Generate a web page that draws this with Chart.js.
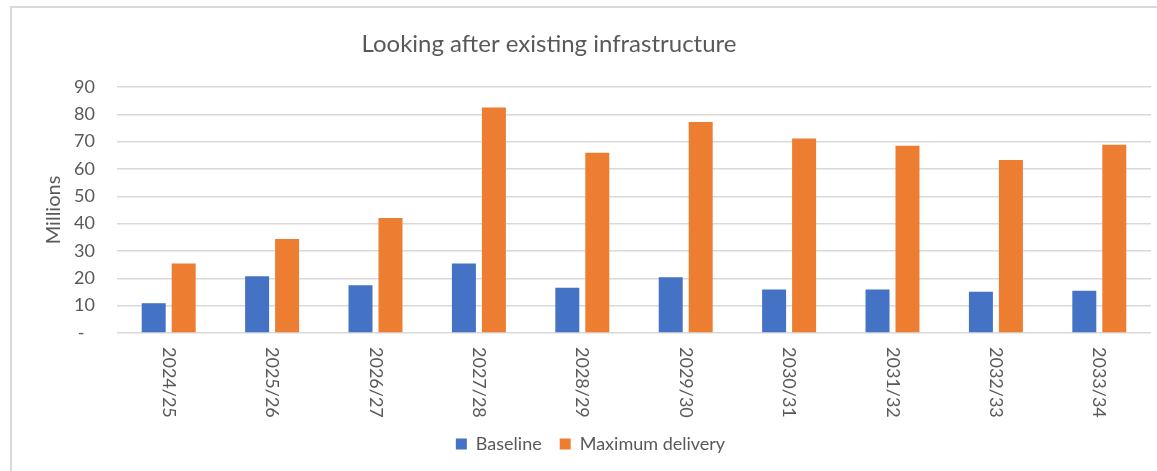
<!DOCTYPE html>
<html>
<head>
<meta charset="utf-8">
<title>Looking after existing infrastructure</title>
<script src="https://cdn.jsdelivr.net/npm/chart.js@4/dist/chart.umd.min.js"></script>
<style>
    html, body { margin: 0; padding: 0; background: #fff; }
    #wrap { position: relative; width: 1157px; height: 471px; overflow: hidden; }
    #frame {
        position: absolute; left: 10px; top: 6px; right: -4px; bottom: -4px;
        border-left: 2px solid #d9d9d9; border-top: 2px solid #d9d9d9;
    }
    #infrastructure { position: absolute; left: 0; top: 0; }
</style>
</head>
<body>
<div id="wrap">
    <div id="frame"></div>
    <canvas id="infrastructure"></canvas>
</div>
<script>
const years = ["2024/25", "2025/26", "2026/27", "2027/28", "2028/29", "2029/30", "2030/31", "2031/32", "2032/33", "2033/34"];
const baseline = [10.9, 20.8, 17.5, 25.4, 16.6, 20.4, 15.9, 15.9, 15.1, 15.5];
const maxDelivery = [25.4, 34.4, 42.1, 82.5, 65.9, 77.2, 71.2, 68.5, 63.3, 68.9];
const yTicks = [0, 10, 20, 30, 40, 50, 60, 70, 80, 90];

const textColor = "#595959";
const fontFamily = "Lato, 'Noto Sans', sans-serif";

// title and the year labels (read top to bottom) are drawn by hand
const extras = {
    id: "extras",
    afterDraw(chart) {
        const ctx = chart.ctx;
        const x = chart.scales.x;
        ctx.save();
        ctx.fillStyle = textColor;
        ctx.font = "24px " + fontFamily;
        ctx.textAlign = "center";
        ctx.textBaseline = "alphabetic";
        ctx.fillText("Looking after existing infrastructure", 549, 52);

        ctx.font = "18px " + fontFamily;
        ctx.textAlign = "left";
        ctx.textBaseline = "middle";
        years.forEach((label, i) => {
            ctx.save();
            ctx.translate(x.getPixelForTick(i), chart.chartArea.bottom + 14);
            ctx.rotate(Math.PI / 2);
            ctx.fillText(label, 0, 0);
            ctx.restore();
        });
        ctx.restore();
    },
};

const canvas = document.getElementById("infrastructure");
canvas.width = 1157;
canvas.height = 471;

new Chart(canvas, {
    type: "bar",
    data: {
        labels: years,
        datasets: [
            {
                label: "Baseline",
                data: baseline,
                backgroundColor: "#4472C4",
                barPercentage: 0.8,
                categoryPercentage: 0.58,
            },
            {
                label: "Maximum delivery",
                data: maxDelivery,
                backgroundColor: "#ED7D31",
                barPercentage: 0.8,
                categoryPercentage: 0.58,
            },
        ],
    },
    options: {
        responsive: false,
        animation: false,
        layout: { padding: { top: 87, left: 30, right: 6, bottom: 8 } },
        plugins: {
            title: { display: false },
            tooltip: { enabled: false },
            legend: {
                position: "bottom",
                labels: {
                    boxWidth: 11,
                    boxHeight: 11,
                    padding: 18,
                    color: textColor,
                    font: { family: fontFamily, size: 18 },
                },
            },
        },
        scales: {
            x: {
                grid: { display: false },
                border: { display: false },
                ticks: { display: false },
                afterFit(scale) { scale.height = 84; },
            },
            y: {
                min: 0,
                max: 90,
                afterBuildTicks(scale) { scale.ticks = yTicks.map((v) => ({ value: v })); },
                afterFit(scale) { scale.width = 87; },
                border: { display: false },
                grid: { color: "#d9d9d9", lineWidth: 1.5, drawTicks: false },
                ticks: {
                    padding: 22,
                    color: textColor,
                    font: { family: fontFamily, size: 18 },
                    callback: (v) => (v === 0 ? "-\u2007" : v),
                },
                title: {
                    display: true,
                    text: "Millions",
                    color: textColor,
                    padding: { top: 12, bottom: 0 },
                    font: { family: fontFamily, size: 20 },
                },
            },
        },
    },
    plugins: [extras],
});
</script>
</body>
</html>
